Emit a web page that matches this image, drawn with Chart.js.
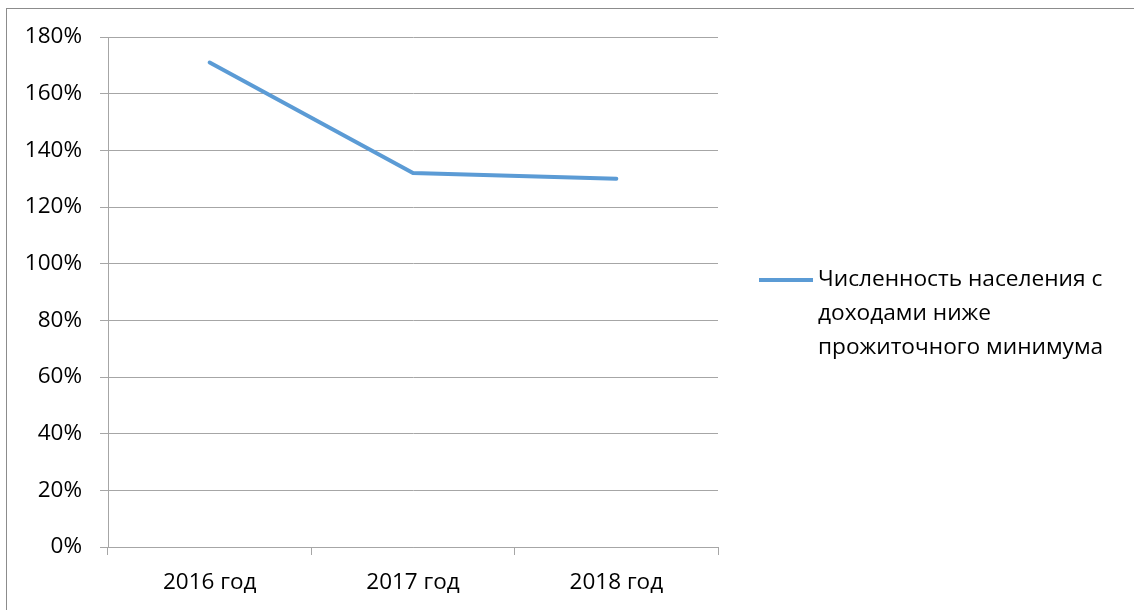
<!DOCTYPE html>
<html lang="ru">
<head>
<meta charset="utf-8">
<title>Численность населения с доходами ниже прожиточного минимума</title>
<script src="https://cdn.jsdelivr.net/npm/chart.js@4.4.0/dist/chart.umd.min.js"></script>
<style>
  html, body { margin: 0; padding: 0; background: #fff; }
  #wrap { width: 1134px; height: 610px; }
</style>
</head>
<body>
<div id="wrap"><canvas id="povertyChart" width="1134" height="610"></canvas></div>
<script>
  // data
  const years = ['2016 год', '2017 год', '2018 год'];
  const povertyShare = [171, 132, 130];
  const seriesLabel = ['Численность населения с', 'доходами ниже', 'прожиточного минимума'];
  const yTicks = [0, 20, 40, 60, 80, 100, 120, 140, 160, 180];

  const lineColor = '#5b9bd5';
  const gridColor = '#a6a6a6';
  const fontFamily = "'Open Sans', 'Noto Sans', sans-serif";

  // outer frame of the chart (only left/top edges are in view)
  const framePlugin = {
    id: 'frame',
    beforeDraw(chart) {
      const ctx = chart.ctx;
      ctx.save();
      ctx.fillStyle = '#fff';
      ctx.fillRect(0, 0, chart.width, chart.height);
      ctx.strokeStyle = '#8c8c8c';
      ctx.lineWidth = 1;
      ctx.strokeRect(6.5, 8.5, chart.width + 20, chart.height + 20);
      ctx.restore();
    }
  };

  // legend on the right with wrapped text
  const sideLegend = {
    id: 'sideLegend',
    afterDraw(chart) {
      const ctx = chart.ctx;
      const area = chart.chartArea;
      const x0 = area.right + 41;
      const y0 = 280;
      ctx.save();
      ctx.strokeStyle = lineColor;
      ctx.lineWidth = 4;
      ctx.beginPath();
      ctx.moveTo(x0, y0);
      ctx.lineTo(x0 + 54, y0);
      ctx.stroke();
      ctx.fillStyle = '#000';
      ctx.font = '22.7px ' + fontFamily;
      ctx.textBaseline = 'middle';
      seriesLabel.forEach((line, i) => {
        ctx.fillText(line, x0 + 59, y0 + i * 34);
      });
      ctx.restore();
    }
  };

  const povertyConfig = {
    type: 'line',
    data: {
      labels: years,
      datasets: [{
        label: seriesLabel.join(' '),
        data: povertyShare,
        borderColor: lineColor,
        borderWidth: 4,
        borderCapStyle: 'round',
        pointRadius: 0,
        tension: 0,
        fill: false
      }]
    },
    options: {
      responsive: false,
      animation: false,
      layout: {
        padding: { left: 0, top: 37, right: 416, bottom: 0 }
      },
      scales: {
        y: {
          min: 0,
          max: 180,
          afterFit(scale) { scale.width = 108; },
          afterBuildTicks(scale) { scale.ticks = yTicks.map(v => ({ value: v })); },
          ticks: {
            color: '#000',
            padding: 18,
            font: { family: fontFamily, size: 22.5 },
            callback: v => v + '%'
          },
          grid: { color: gridColor, lineWidth: 1, tickLength: 8, drawTicks: true },
          border: { display: true, color: gridColor }
        },
        x: {
          offset: true,
          afterFit(scale) { scale.height = 63; },
          ticks: {
            color: '#000',
            padding: 14,
            maxRotation: 0,
            font: { family: fontFamily, size: 22.5 }
          },
          grid: { offset: true, drawOnChartArea: false, drawTicks: true, tickLength: 8, color: gridColor },
          border: { display: true, color: gridColor }
        }
      },
      plugins: {
        legend: { display: false },
        tooltip: { enabled: false }
      }
    },
    plugins: [framePlugin, sideLegend]
  };

  window.onload = function () {
    new Chart(document.getElementById('povertyChart'), povertyConfig);
  };
</script>
</body>
</html>
